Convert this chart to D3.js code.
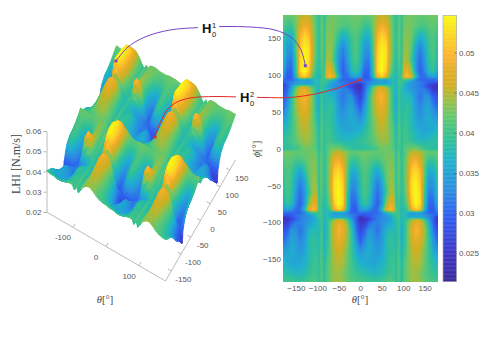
<!DOCTYPE html>
<html>
<head>
<meta charset="utf-8">
<script src="https://cdn.jsdelivr.net/npm/d3@7"></script>
<style>
    html, body { margin: 0; padding: 0; background: #fff; }
    svg { display: block; }
    text { font-family: "Liberation Sans", sans-serif; fill: #555; }
    .latex { font-family: "Liberation Serif", serif; fill: #444; }
    .tag { fill: #111; }
</style>
</head>
<body>
<svg id="chart" width="479" height="339"></svg>
<script>
// Data //
const thetaValues = [-180,-170,-160,-150,-140,-130,-120,-110,-102,-96,-92,-88,-84,-78,-70,-60,-50,-40,-30,-20,-10,
    0,10,20,30,40,50,60,70,78,84,88,92,96,102,110,120,130,140,150,160,170,180]
const phiValues = [180,165,150,135,120,105,97,93,90,87,84,80,70,55,40,25,10,0,
    -5,-15,-30,-45,-60,-75,-83,-87,-90,-93,-96,-100,-110,-125,-140,-155,-170,-180]

// LHI, in units of 1e-4 N.m/s, one row per phi
const lhiRows = [
[425,420,420,430,445,455,450,430,405,388,405,415,388,420,425,425,420,420,420,425,425, 425,420,420,430,445,455,450,430,405,388,405,415,388,420,425,425,420,420,420,425,425, 425],
[410,395,395,425,465,490,480,440,410,388,410,420,388,425,430,425,415,405,405,415,420, 410,395,395,425,465,490,480,440,410,388,410,420,388,425,430,425,415,405,405,415,420, 410],
[395,365,360,415,495,525,510,445,410,388,410,420,388,430,435,420,385,355,375,400,410, 395,365,360,415,495,525,510,445,410,388,410,420,388,430,435,420,385,355,375,400,410, 395],
[385,340,335,410,510,540,530,450,410,385,410,420,385,435,440,410,350,320,355,395,410, 385,340,335,410,510,540,530,450,410,385,410,420,385,435,440,410,350,320,355,395,410, 385],
[380,325,315,395,520,546,530,445,405,382,405,415,385,445,445,395,335,305,340,390,405, 380,325,315,395,520,546,530,445,405,382,405,415,385,445,445,395,335,305,340,390,405, 380],
[360,300,300,385,525,546,515,425,395,378,395,405,388,470,480,430,335,295,325,375,395, 360,300,300,385,525,546,515,425,395,378,395,405,388,470,480,430,335,295,325,375,395, 360],
[335,290,295,370,490,520,480,400,385,370,390,400,400,480,505,470,370,305,305,335,350, 335,290,295,370,490,520,480,400,385,370,390,400,400,480,505,470,370,305,305,335,350, 335],
[310,295,300,320,345,350,340,370,385,370,395,400,395,400,395,370,320,300,300,300,300, 310,295,300,320,345,350,340,370,385,370,395,400,395,400,395,370,320,300,300,300,300, 310],
[300,310,320,340,350,350,345,360,385,372,395,405,395,390,365,340,325,315,305,295,290, 295,310,320,340,350,350,345,360,385,372,395,405,395,390,365,340,325,315,305,295,290, 300],
[265,300,325,345,355,355,355,365,385,370,395,400,395,375,350,335,325,315,305,280,260, 240,300,325,345,355,355,355,365,385,370,395,400,395,375,350,335,325,315,305,280,260, 245],
[260,295,340,400,440,450,430,395,385,365,395,395,385,370,350,335,325,315,295,265,245, 240,295,340,400,440,450,430,395,385,365,395,395,385,370,350,335,325,315,295,265,245, 245],
[270,300,360,425,470,480,455,415,385,362,395,395,380,370,355,340,330,320,320,295,255, 250,300,360,425,470,480,455,415,385,362,395,395,380,370,355,340,330,320,320,295,255, 255],
[285,315,385,440,480,495,470,420,380,352,395,395,375,380,375,365,330,310,330,335,295, 265,315,385,440,480,495,470,420,380,352,395,395,375,380,375,365,330,310,330,335,295, 280],
[305,340,395,435,465,480,460,420,385,355,400,400,375,385,395,375,340,325,345,355,325, 295,340,395,435,465,480,460,420,385,355,400,400,375,385,395,375,340,325,345,355,325, 305],
[345,360,395,425,450,460,450,420,395,365,400,405,380,395,390,375,350,340,350,360,350, 335,360,395,425,450,460,450,420,395,365,400,405,380,395,390,375,350,340,350,360,350, 345],
[375,380,400,420,445,450,445,425,405,375,405,410,385,400,395,380,365,355,350,355,360, 365,380,400,420,445,450,445,425,405,375,405,410,385,400,395,380,365,355,350,355,360, 375],
[390,395,405,415,430,440,440,425,410,380,405,410,385,400,400,390,380,375,375,380,385, 390,395,405,415,430,440,440,425,410,380,405,410,385,400,400,390,380,375,375,380,385, 390],
[385,385,390,400,410,425,425,420,410,385,405,405,385,410,420,425,430,410,400,390,385, 385,385,390,400,410,425,425,420,410,385,405,405,385,410,420,425,430,410,400,390,385, 385],
[425,425,425,420,420,420,425,425,420,388,415,405,388,405,430,450,455,445,430,420,420, 425,425,425,420,420,420,425,425,420,388,415,405,388,405,430,450,455,445,430,420,420, 425],
[410,420,415,405,405,415,425,430,425,388,420,410,388,410,440,480,490,465,425,395,395, 410,420,415,405,405,415,425,430,425,388,420,410,388,410,440,480,490,465,425,395,395, 410],
[395,410,400,375,355,385,420,435,430,388,420,410,388,410,445,510,525,495,415,360,365, 395,410,400,375,355,385,420,435,430,388,420,410,388,410,445,510,525,495,415,360,365, 395],
[385,410,395,355,320,350,410,440,435,385,420,410,385,410,450,530,540,510,410,335,340, 385,410,395,355,320,350,410,440,435,385,420,410,385,410,450,530,540,510,410,335,340, 385],
[380,405,390,340,305,335,395,445,445,385,415,405,382,405,445,530,546,520,395,315,325, 380,405,390,340,305,335,395,445,445,385,415,405,382,405,445,530,546,520,395,315,325, 380],
[360,395,375,325,295,335,430,480,470,388,405,395,378,395,425,515,546,525,385,300,300, 360,395,375,325,295,335,430,480,470,388,405,395,378,395,425,515,546,525,385,300,300, 360],
[335,350,335,305,305,370,470,505,480,400,400,390,370,385,400,480,520,490,370,295,290, 335,350,335,305,305,370,470,505,480,400,400,390,370,385,400,480,520,490,370,295,290, 335],
[310,300,300,300,300,320,370,395,400,395,400,395,370,385,370,340,350,345,320,300,295, 310,300,300,300,300,320,370,395,400,395,400,395,370,385,370,340,350,345,320,300,295, 310],
[300,290,295,305,315,325,340,365,390,395,405,395,372,385,360,345,350,350,340,320,310, 295,290,295,305,315,325,340,365,390,395,405,395,372,385,360,345,350,350,340,320,310, 300],
[245,260,280,305,315,325,335,350,375,395,400,395,370,385,365,355,355,355,345,325,300, 240,260,280,305,315,325,335,350,375,395,400,395,370,385,365,355,355,355,345,325,300, 245],
[245,245,265,295,315,325,335,350,370,385,395,395,365,385,395,430,450,440,400,340,295, 240,245,265,295,315,325,335,350,370,385,395,395,365,385,395,430,450,440,400,340,295, 245],
[255,255,295,320,320,330,340,355,370,380,395,395,362,385,415,455,480,470,425,360,300, 250,255,295,320,320,330,340,355,370,380,395,395,362,385,415,455,480,470,425,360,300, 255],
[280,295,335,330,310,330,365,375,380,375,395,395,352,380,420,470,495,480,440,385,315, 265,295,335,330,310,330,365,375,380,375,395,395,352,380,420,470,495,480,440,385,315, 280],
[305,325,355,345,325,340,375,395,385,375,400,400,355,385,420,460,480,465,435,395,340, 295,325,355,345,325,340,375,395,385,375,400,400,355,385,420,460,480,465,435,395,340, 305],
[345,350,360,350,340,350,375,390,395,380,405,400,365,395,420,450,460,450,425,395,360, 335,350,360,350,340,350,375,390,395,380,405,400,365,395,420,450,460,450,425,395,360, 345],
[375,360,355,350,355,365,380,395,400,385,410,405,375,405,425,445,450,445,420,400,380, 365,360,355,350,355,365,380,395,400,385,410,405,375,405,425,445,450,445,420,400,380, 375],
[390,385,380,375,375,380,390,400,400,385,410,405,380,410,425,440,440,430,415,405,395, 390,385,380,375,375,380,390,400,400,385,410,405,380,410,425,440,440,430,415,405,395, 390],
[405,400,400,395,395,400,405,410,410,388,410,405,385,410,425,440,445,435,420,410,405, 405,400,400,395,395,400,405,410,410,388,410,405,385,410,425,440,445,435,420,410,405, 405],
]

const mapThetaTicks = [-150,-100,-50,0,50,100,150]
const mapPhiTicks = [-150,-100,-50,0,50,100,150]
const surfaceThetaTicks = [-100,0,100]
const surfacePhiTicks = [-150,-100,-50,0,50,100,150]
const surfaceZTicks = [0.02,0.03,0.04,0.05,0.06]
const colorbarTicks = [0.025,0.03,0.035,0.04,0.045,0.05]
const lhiDomain = [0.0215,0.0546]
// colours
const colormapLevels = [0.0215,0.025,0.0295,0.033,0.0365,0.039,0.042,0.0442,0.0458,0.048,0.0495,0.052,0.0546]
const colormapStops = ['#3b2a98','#3d37c6','#2f5ef0','#2a8fe0','#1fb2cc','#2fc09a','#62c870','#a0be40','#d0b022','#e6ae28','#fdb32e','#fbd525','#f9f915']

// Scales //
const svg = d3.select('#chart')

const mapX = d3.scaleLinear().domain([-180,180]).range([283,437.5])
const mapY = d3.scaleLinear().domain([180,-180]).range([15.5,281.5])
const barY = d3.scaleLinear().domain(lhiDomain).range([281.5,15.5])
const color = d3.scaleLinear().domain(colormapLevels).range(colormapStops).clamp(true)

// oblique surface projection, all of it linear
const origin = { x: 46.5, y: 212 }
const thetaToX = d3.scaleLinear().domain([-180,180]).range([0,119])
const thetaToY = d3.scaleLinear().domain([-180,180]).range([0,69])
const phiToX = d3.scaleLinear().domain([-180,180]).range([0,70])
const phiToY = d3.scaleLinear().domain([-180,180]).range([0,-121])
const zToY = d3.scaleLinear().domain([0.02,0.06]).range([212,131])

const project = (theta, phi, z = 0.02) => [
    origin.x + thetaToX(theta) + phiToX(phi),
    zToY(z) + thetaToY(theta) + phiToY(phi),
]

// Getters //
const fmt = d3.format('')
const bisectTheta = d3.bisector(d => d).right
const bisectPhi = d3.bisector(d => -d).right

// value between the four grid corners around a point
const getLhi = (theta, phi) => {
    const i = Math.min(Math.max(bisectTheta(thetaValues, theta) - 1, 0), thetaValues.length - 2)
    const j = Math.min(Math.max(bisectPhi(phiValues, -phi) - 1, 0), phiValues.length - 2)
    const u = (theta - thetaValues[i]) / (thetaValues[i + 1] - thetaValues[i])
    const v = (phi - phiValues[j]) / (phiValues[j + 1] - phiValues[j])
    return (lhiRows[j][i] * (1 - u) * (1 - v) + lhiRows[j][i + 1] * u * (1 - v) +
        lhiRows[j + 1][i] * (1 - u) * v + lhiRows[j + 1][i + 1] * u * v) / 10000
}

const makeCanvas = (width, height) => {
    const canvas = document.createElement('canvas')
    canvas.width = width
    canvas.height = height
    return canvas
}

const addCanvasImage = (canvas, x, y, blur) => {
    svg.append('image')
        .attr('x', x).attr('y', y)
        .attr('width', canvas.width).attr('height', canvas.height)
        .attr('href', canvas.toDataURL())
        .style('filter', `blur(${blur}px)`)
}

// Drawers //
const drawSurfaceAxes = () => {
    const g = svg.append('g')
    const frame = [project(-180,-180), project(180,-180), project(180,180)]
    g.append('path')
        .attr('d', d3.line()(frame))
        .attr('fill', 'none')
        .attr('stroke', '#aaa')
        .attr('stroke-width', 0.8)

    g.selectAll('.theta-tick')
        .data(surfaceThetaTicks)
        .enter()
        .append('line')
            .attr('x1', d => project(d,-180)[0])
            .attr('y1', d => project(d,-180)[1])
            .attr('x2', d => project(d,-180)[0] + 2.2)
            .attr('y2', d => project(d,-180)[1] - 3.6)
            .attr('stroke', '#999')
            .attr('stroke-width', 0.7)

    g.selectAll('.theta-label')
        .data(surfaceThetaTicks)
        .enter()
        .append('text')
            .attr('x', d => project(d,-180)[0] - 10)
            .attr('y', d => project(d,-180)[1] + 13)
            .attr('text-anchor', 'middle')
            .attr('font-size', 8)
            .text(d => d)

    g.selectAll('.phi-tick')
        .data(surfacePhiTicks)
        .enter()
        .append('line')
            .attr('x1', d => project(180,d)[0])
            .attr('y1', d => project(180,d)[1])
            .attr('x2', d => project(180,d)[0] - 3.4)
            .attr('y2', d => project(180,d)[1] - 2)
            .attr('stroke', '#999')
            .attr('stroke-width', 0.7)

    g.selectAll('.phi-label')
        .data(surfacePhiTicks)
        .enter()
        .append('text')
            .attr('x', d => project(180,d)[0] + 12)
            .attr('y', d => project(180,d)[1] + 11)
            .attr('text-anchor', 'middle')
            .attr('font-size', 8)
            .text(d => d)

    const zAxis = d3.axisLeft(zToY).tickValues(surfaceZTicks).tickSize(3).tickPadding(2).tickFormat(d3.format('.2f'))
    const zG = svg.append('g').attr('transform', `translate(${origin.x},0)`).call(zAxis)
    zG.selectAll('path, line').attr('stroke', '#aaa').attr('stroke-width', 0.8)
    zG.selectAll('text').attr('font-size', 8).attr('font-family', null).attr('fill', null)
}

const drawSurface = () => {
    const canvas = makeCanvas(260, 260)
    const ctx = canvas.getContext('2d')
    const top = 10, left = 20
    // back corner first, the front corner ends up on top
    const stepTheta = d3.range(-180, 180, 1.5)
    const stepPhi = d3.range(180, -180, -1.5)
    ctx.lineWidth = 0.6
    stepTheta.forEach(t => {
        stepPhi.forEach(p => {
            const t1 = t + 1.5, p1 = p - 1.5
            const corners = [[t,p],[t1,p],[t1,p1],[t,p1]].map(c => project(c[0], c[1], getLhi(c[0], c[1])))
            const c = color(getLhi(t + 0.75, p - 0.75))
            ctx.fillStyle = c
            ctx.strokeStyle = c
            ctx.beginPath()
            corners.forEach((q, i) => {
                if (i === 0) ctx.moveTo(q[0] - left, q[1] - top)
                else ctx.lineTo(q[0] - left, q[1] - top)
            })
            ctx.closePath()
            ctx.fill()
            ctx.stroke()
        })
    })
    addCanvasImage(canvas, left, top, 0.4)
}

const drawMap = () => {
    const x0 = 283, y0 = 15, w = 155, h = 267
    const canvas = makeCanvas(w, h)
    const ctx = canvas.getContext('2d')
    d3.range(h).forEach(row => {
        d3.range(w).forEach(col => {
            const theta = Math.min(Math.max(mapX.invert(x0 + col + 0.5), -180), 180)
            const phi = Math.min(Math.max(mapY.invert(y0 + row + 0.5), -180), 180)
            ctx.fillStyle = color(getLhi(theta, phi))
            ctx.fillRect(col, row, 1, 1)
        })
    })
    addCanvasImage(canvas, x0, y0, 0.6)

    const bottom = d3.axisBottom(mapX).tickValues(mapThetaTicks).tickSize(0).tickPadding(3).tickFormat(fmt)
    const left = d3.axisLeft(mapY).tickValues(mapPhiTicks).tickSize(0).tickPadding(2).tickFormat(fmt)
    const bottomG = svg.append('g').attr('transform', 'translate(0,282)').call(bottom)
    const leftG = svg.append('g').attr('transform', 'translate(283,0)').call(left)
    for (const g of [bottomG, leftG]) {
        g.select('.domain').remove()
        g.selectAll('text').attr('font-size', 8).attr('font-family', null).attr('fill', null)
    }
}

const drawColorbar = () => {
    const levels = d3.range(lhiDomain[0], lhiDomain[1], 0.0001)
    svg.append('g')
        .selectAll('rect')
        .data(levels)
        .enter()
        .append('rect')
            .attr('x', 443)
            .attr('width', 13.5)
            .attr('y', d => barY(d + 0.0001))
            .attr('height', d => barY(d) - barY(d + 0.0001) + 0.4)
            .attr('fill', d => color(d))

    svg.append('rect')
        .attr('x', 443).attr('y', 15.5).attr('width', 13.5).attr('height', 266)
        .attr('fill', 'none')
        .attr('stroke', '#aaa')
        .attr('stroke-width', 0.7)

    const right = d3.axisRight(barY).tickValues(colorbarTicks).tickSize(-2).tickPadding(4).tickFormat(fmt)
    const g = svg.append('g').attr('transform', 'translate(456.5,0)').call(right)
    g.select('.domain').remove()
    g.selectAll('line').attr('stroke', '#555').attr('stroke-width', 0.7)
    g.selectAll('text').attr('font-size', 8).attr('font-family', null).attr('fill', null).attr('x', 2.5)
}

const drawLabel = (x, y, symbol, rotate) => {
    const text = svg.append('text')
        .attr('class', 'latex')
        .attr('transform', `translate(${x},${y})${rotate ? ' rotate(-90)' : ''}`)
        .attr('text-anchor', 'middle')
        .attr('font-size', 10.5)
    text.append('tspan').attr('font-style', 'italic').text(symbol)
    text.append('tspan').text('[°]')
}

const drawLabels = () => {
    drawLabel(360, 303, 'θ')
    drawLabel(105, 303, 'θ')
    drawLabel(260, 149, 'ϕ', true)
    svg.append('text')
        .attr('class', 'latex')
        .attr('transform', 'translate(20,164) rotate(-90)')
        .attr('text-anchor', 'middle')
        .attr('font-size', 12)
        .text('LHI [N.m/s]')
}

const drawCallout = (points, stroke, tag, tagX, tagY) => {
    svg.append('path')
        .attr('d', d3.line().curve(d3.curveCatmullRom)(points))
        .attr('fill', 'none')
        .attr('stroke', stroke)
        .attr('stroke-width', 1)

    svg.append('rect')
        .attr('x', tagX - 4).attr('y', tagY - 11).attr('width', 21).attr('height', 18)
        .attr('fill', '#fff')

    svg.append('text')
        .attr('class', 'tag')
        .attr('x', tagX).attr('y', tagY)
        .attr('font-size', 13).attr('font-weight', 'bold')
        .text('H')
    svg.append('text')
        .attr('class', 'tag')
        .attr('x', tagX + 10).attr('y', tagY - 5)
        .attr('font-size', 7.5)
        .text(tag)
    svg.append('text')
        .attr('class', 'tag')
        .attr('x', tagX + 10).attr('y', tagY + 4)
        .attr('font-size', 7.5)
        .text('0')

    for (const end of [points[0], points[points.length - 1]]) {
        svg.append('rect')
            .attr('x', end[0] - 1.5).attr('y', end[1] - 1.5)
            .attr('width', 3).attr('height', 3)
            .attr('fill', stroke)
    }
}

const drawCallouts = () => {
    const mapH1 = [mapX(-128), mapY(112)]
    const mapH2 = [mapX(0), mapY(93)]
    drawCallout([[116,61],[128,47],[145,37],[170,30],[200,27.5],[225,26.5],[250,27],[275,30],[292,38],[301,50],mapH1], '#7a45c8', '1', 202, 33)
    drawCallout([[155,137],[160,123],[167,110],[177,102],[190,98],[215,96.5],[240,97],[265,97.5],[290,97.5],[315,94],[338,88],mapH2], '#e02b2b', '2', 240, 102)
}

// Initializer //
drawSurfaceAxes()
drawSurface()
drawMap()
drawColorbar()
drawLabels()
drawCallouts()
</script>
</body>
</html>
